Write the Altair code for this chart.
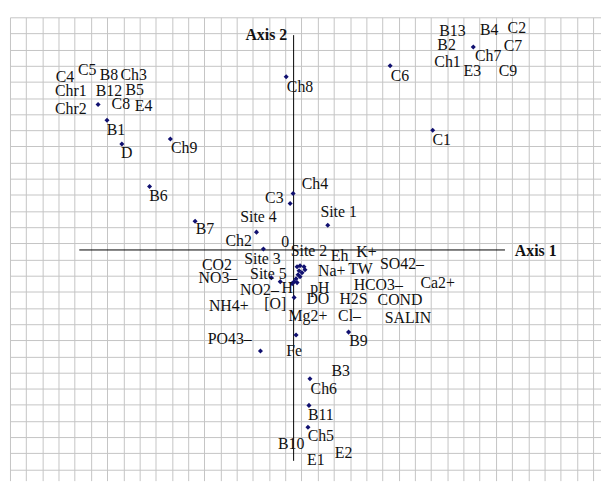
import altair as alt
import pandas as pd

# ---- ordination scores of the plotted points (Axis 1, Axis 2) ----
pt_x = [-0.075, -1.975, -1.885, -1.735, -1.245, -1.455, -0.995, 1.815, 0.975, 1.405,
        -0.005, -0.035, 0.345, -0.375, -0.305, -0.225, -0.135,
        0.035, 0.065, 0.105, 0.115, 0.055, 0.085, 0.045, 0.065, 0.025, 0.005, -0.015, 0.035,
        0.005, 0.025, -0.335, 0.555, 0.165, 0.155, 0.145]
pt_y = [1.75, 1.47, 1.31, 1.07, 1.12, 0.64, 0.29, 2.05, 1.86, 1.21,
        0.57, 0.47, 0.25, 0.18, 0.01, -0.28, -0.32,
        -0.17, -0.16, -0.17, -0.20, -0.21, -0.23, -0.25, -0.27, -0.29, -0.32, -0.34, -0.33,
        -0.48, -0.86, -1.02, -0.83, -1.30, -1.57, -1.79]

# ---- labels and their positions ----
lab_text = ["C4", "C5", "B8", "Ch3", "Chr1", "B12", "B5", "Chr2", "C8", "E4",
            "B1", "D", "Ch8", "Ch9", "B6", "B7", "C3", "Site 4", "Ch2", "0",
            "Ch4", "Site 1", "C6", "C1", "B13", "B4", "C2", "B2", "C7", "Ch7",
            "Ch1", "E3", "C9", "Site 2", "Eh", "K+", "Site 3", "CO2", "Na+", "TW",
            "SO42–", "Site 5", "NO3–", "HCO3–", "Ca2+", "NO2–", "H", "pH", "NH4+", "[O]",
            "DO", "H2S", "COND", "Mg2+", "Cl–", "SALIN", "PO43–", "Fe", "B9", "B3",
            "Ch6", "B11", "Ch5", "B10", "E1", "E2"]
lab_x = [-2.31, -2.085, -1.865, -1.615, -2.25, -1.865, -1.605, -2.25, -1.745, -1.515,
         -1.795, -1.685, 0.065, -1.105, -1.365, -0.895, -0.195, -0.355, -0.555, -0.085,
         0.215, 0.455, 1.075, 1.495, 1.605, 1.975, 2.255, 1.545, 2.215, 1.965,
         1.555, 1.805, 2.165, 0.155, 0.465, 0.735, -0.315, -0.775, 0.385, 0.675,
         1.095, -0.255, -0.765, 0.855, 1.455, -0.345, -0.065, 0.265, -0.655, -0.185,
         0.245, 0.605, 1.075, 0.145, 0.565, 1.155, -0.645, 0.005, 0.655, 0.475,
         0.305, 0.275, 0.275, -0.025, 0.225, 0.505]
lab_y = [1.75, 1.82, 1.77, 1.77, 1.61, 1.61, 1.62, 1.42, 1.47, 1.45,
         1.21, 0.98, 1.65, 1.03, 0.54, 0.21, 0.52, 0.33, 0.09, 0.08,
         0.67, 0.38, 1.76, 1.11, 2.21, 2.22, 2.24, 2.07, 2.06, 1.96,
         1.90, 1.81, 1.81, -0.01, -0.06, -0.02, -0.09, -0.15, -0.21, -0.19,
         -0.14, -0.24, -0.28, -0.35, -0.33, -0.41, -0.38, -0.38, -0.57, -0.55,
         -0.50, -0.50, -0.51, -0.67, -0.67, -0.69, -0.90, -1.02, -0.92, -1.22,
         -1.40, -1.67, -1.88, -1.96, -2.12, -2.05]

# ---- axis lines through the origin ----
ax1_x = [-2.165, 2.135]
ax2_y = [2.17, -2.13]
ax_title_text = ["Axis 1", "Axis 2"]
ax_title_x = [2.235, -0.065]
ax_title_y = [-0.01, 2.17]
ax_title_align = ["left", "right"]

XMIN, XMAX = -2.865, 3.105
YMIN, YMAX = -2.33, 2.35
gx = [round((10 + 16.36 * k - 296.5) / 100, 4) for k in range(37)]
gy = [round((250 - (15 + 16.31 * k)) / 100, 4) for k in range(30)]

xs = alt.Scale(domain=[XMIN, XMAX], nice=False, zero=False)
ys = alt.Scale(domain=[YMIN, YMAX], nice=False, zero=False)
xa = alt.Axis(values=gx, grid=True, labels=False, ticks=False, domain=False,
              gridColor="#c4c4c4", gridWidth=1, gridOpacity=1)
ya = alt.Axis(values=gy, grid=True, labels=False, ticks=False, domain=False,
              gridColor="#c4c4c4", gridWidth=1, gridOpacity=1)

def X(f):
    return alt.X(f, type="quantitative", scale=xs, axis=xa, title=None)

def Y(f):
    return alt.Y(f, type="quantitative", scale=ys, axis=ya, title=None)

pts = pd.DataFrame({"x": pt_x, "y": pt_y})
labs = pd.DataFrame({"t": lab_text, "x": lab_x, "y": lab_y})
h_axis = pd.DataFrame({"x": [ax1_x[0]], "x2": [ax1_x[1]], "y": [0.0]})
v_axis = pd.DataFrame({"x": [0.0], "y": [ax2_y[0]], "y2": [ax2_y[1]]})
titles = pd.DataFrame({"t": ax_title_text, "x": ax_title_x, "y": ax_title_y, "a": ax_title_align})

hl = alt.Chart(h_axis).mark_rule(color="black", strokeWidth=1).encode(
    x=X("x"), x2="x2", y=Y("y"))
vl = alt.Chart(v_axis).mark_rule(color="black", strokeWidth=1).encode(
    x=X("x"), y=Y("y"), y2="y2")
pl = alt.Chart(pts).mark_point(shape="diamond", filled=True, size=26,
                               color="#101070", opacity=1).encode(x=X("x"), y=Y("y"))
tl = alt.Chart(labs).mark_text(font="Liberation Serif", fontSize=16, align="center",
                               baseline="middle", color="#111111").encode(
    x=X("x"), y=Y("y"), text="t:N")
t1 = alt.Chart(titles[titles.a == "left"]).mark_text(
    font="Liberation Serif", fontSize=16, fontWeight="bold", align="left",
    baseline="middle", color="#111111").encode(x=X("x"), y=Y("y"), text="t:N")
t2 = alt.Chart(titles[titles.a == "right"]).mark_text(
    font="Liberation Serif", fontSize=16, fontWeight="bold", align="right",
    baseline="middle", color="#111111").encode(x=X("x"), y=Y("y"), text="t:N")

chart = alt.layer(hl, vl, pl, tl, t1, t2).properties(
    width=597, height=468,
    padding={"left": 2, "top": 7, "right": 0, "bottom": 0},
    autosize=alt.AutoSizeParams(type="none"),
    background="white",
).configure_view(strokeWidth=0)

chart.save("out.html", embed_options={"renderer": "svg", "actions": False})
